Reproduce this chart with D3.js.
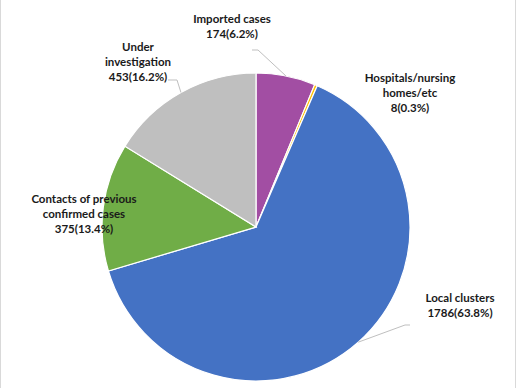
<!DOCTYPE html>
<html>
<head>
<meta charset="utf-8">
<script src="https://d3js.org/d3.v7.min.js"></script>
<style>
    body { margin: 0; background: #fff; }
    svg { display: block; }
    .lbl { font-family: Lato, 'Open Sans', sans-serif; font-weight: bold; font-size: 11.5px; fill: #1a1a1a; }
    .leader { fill: none; stroke: #bfbfbf; stroke-width: 1px; }
</style>
</head>
<body>
<div id="chart"></div>
<script>
    var categories = ["Imported cases", "Hospitals/nursing homes/etc", "Local clusters", "Contacts of previous confirmed cases", "Under investigation"];
    var counts = [174, 8, 1786, 375, 453];
    var shares = ["6.2%", "0.3%", "63.8%", "13.4%", "16.2%"];
    var colors = ["#a24ea3", "#ffc000", "#4472c4", "#70ad47", "#bfbfbf"];

    // label lines as wrapped in the original, and where the label blocks sit
    var labelLines = [
        ["Imported cases"],
        ["Hospitals/nursing", "homes/etc"],
        ["Local clusters"],
        ["Contacts of previous", "confirmed cases"],
        ["Under", "investigation"]
    ];
    var labelPos = [[232, 18], [410, 77], [460, 297], [84, 198], [138, 46]];
    // elbow of the leader line (null = no leader)
    var leaderElbow = [[[252, 50], [258, 50]], null, [[410, 325], [405, 325]], null, [[168, 80], [177, 80]]];

    var width = 517, height = 388;
    var cx = 256, cy = 227, radius = 154;

    var svg = d3.select("#chart").append("svg")
        .attr("width", width)
        .attr("height", height);

    // faint frame edges
    svg.append("line").attr("x1", 0.5).attr("x2", 0.5).attr("y1", 0).attr("y2", height).attr("stroke", "#d9d9d9");
    svg.append("line").attr("x1", width - 1.5).attr("x2", width - 1.5).attr("y1", 0).attr("y2", height).attr("stroke", "#d9d9d9");

    var data = categories.map(function (c, i) {
        return { name: c, value: counts[i], share: shares[i], i: i };
    });

    var pie = d3.pie().sort(null).value(function (d) { return d.value; });
    var arc = d3.arc().innerRadius(0).outerRadius(radius);
    var arcs = pie(data);

    var g = svg.append("g").attr("transform", "translate(" + cx + "," + cy + ")");

    g.selectAll("path.slice")
        .data(arcs)
        .enter().append("path")
        .attr("class", "slice")
        .attr("d", arc)
        .attr("fill", function (d) { return colors[d.data.i]; })
        .attr("stroke", "#fff")
        .attr("stroke-width", 1.2);

    // leader lines: from label elbow to the slice edge at its mid-angle
    arcs.forEach(function (d) {
        var e = leaderElbow[d.data.i];
        if (!e) return;
        var a = (d.startAngle + d.endAngle) / 2;
        var px = cx + radius * Math.sin(a), py = cy - radius * Math.cos(a);
        svg.append("path")
            .attr("class", "leader")
            .attr("d", d3.line()([e[0], e[1], [px, py]]));
    });

    // labels
    arcs.forEach(function (d) {
        var i = d.data.i;
        var lines = labelLines[i].concat([d.data.value + "(" + d.data.share + ")"]);
        var t = svg.append("text")
            .attr("class", "lbl")
            .attr("text-anchor", "middle")
            .attr("x", labelPos[i][0])
            .attr("y", labelPos[i][1])
            .attr("dominant-baseline", "central");
        lines.forEach(function (s, k) {
            t.append("tspan")
                .attr("x", labelPos[i][0])
                .attr("dy", k === 0 ? 0 : 15)
                .text(s);
        });
    });
</script>
</body>
</html>
